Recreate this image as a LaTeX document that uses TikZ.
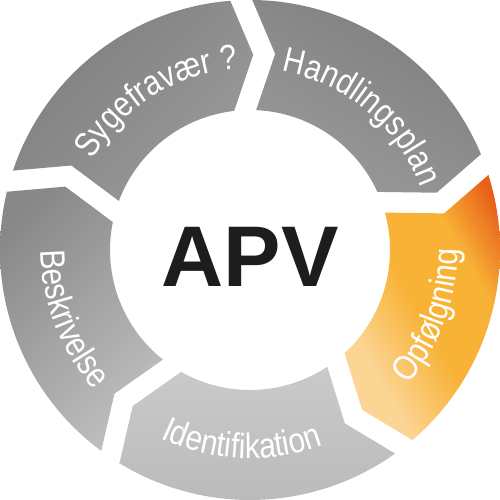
\documentclass[tikz,border=0pt]{standalone}
\usepackage{fontspec}
\setmainfont{Liberation Sans}
\newfontfamily\segfont[FakeStretch=0.85]{Liberation Sans}
\usetikzlibrary{calc,decorations.text}

\definecolor{apvnegro}{HTML}{1D1D1B}
\definecolor{grisA}{HTML}{7E7E7E}
\definecolor{grisB}{HTML}{9A9A9A}
\definecolor{grisC}{HTML}{888888}
\definecolor{grisD}{HTML}{BEBEBE}
\definecolor{grisE}{HTML}{CACACA}
\definecolor{grisF}{HTML}{B9B9B9}
\definecolor{naranjaA}{HTML}{E8601A}
\definecolor{naranjaB}{HTML}{F8B236}
\definecolor{naranjaC}{HTML}{FBD594}

\pgfdeclareverticalshading{naranja}{100bp}{color(0bp)=(naranjaC); color(30bp)=(naranjaC);
  color(47bp)=(naranjaB); color(63bp)=(naranjaB); color(76bp)=(naranjaA); color(100bp)=(naranjaA)}

% segmento del anillo: #1 opciones, #2 angulo inicial, #3 angulo final
\newcommand{\segmento}[3]{%
  \shade[#1] ({#2-2.52}:5) arc[start angle={#2-2.52}, end angle={#3+2.52}, radius=5]
    -- ($(#3:3.9)+(#3-90:0.2)$) -- ({#3+4.5}:2.8)
    arc[start angle={#3+4.5}, end angle={#2-4.5}, radius=2.8]
    -- ($(#2:3.9)+(#2-90:0.64)$) -- cycle;}

\tikzset{
  etiqueta/.style={decorate, decoration={text along path, text align=center,
      text color=white, text={|\segfont\fontsize{20}{20}\selectfont|#1}}}
}

\begin{document}
\begin{tikzpicture}
            \useasboundingbox (-5,-5) rectangle (5,5);

            % Segmentos
            \segmento{top color=grisA, bottom color=grisB, shading angle=45}{164}{92}
            \segmento{top color=grisA, bottom color=grisB, shading angle=-30}{92}{20}
            \segmento{shading=naranja, shading angle=-60}{20}{-52}
            \segmento{top color=grisE, bottom color=grisF}{-52}{-124}
            \segmento{top color=grisC, bottom color=grisD, shading angle=45}{-124}{-196}

            % Textos
            \path[etiqueta={Sygefravær ?}] (163:3.63) arc[start angle=163, end angle=81, radius=3.63];
            \path[etiqueta={Handlingsplan}] (90:3.63) arc[start angle=90, end angle=10, radius=3.63];
            \path[etiqueta={Opfølgning}] (-60:4.15) arc[start angle=-60, end angle=20, radius=4.15];
            \path[etiqueta={Identifikation}] (-132.5:4.17) arc[start angle=-132.5, end angle=-52.5, radius=4.17];
            \path[etiqueta={Beskrivelse}] (161:4.18) arc[start angle=161, end angle=241, radius=4.18];

            % Centro
            \node[font=\bfseries\fontsize{49}{49}\selectfont, text=apvnegro] (apv) at (0,-0.13) {APV};
        \end{tikzpicture}
\end{document}
